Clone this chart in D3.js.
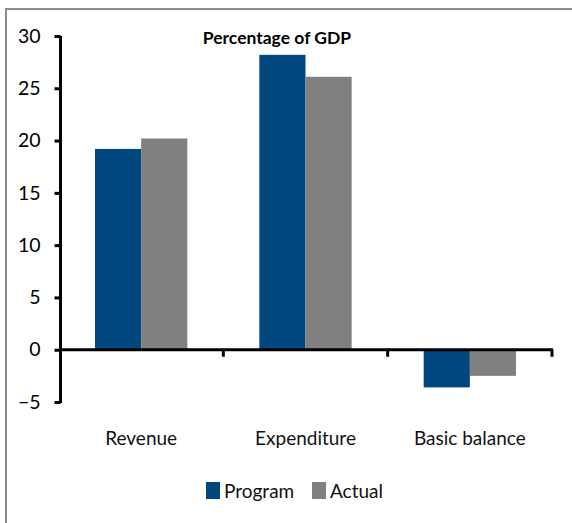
<!DOCTYPE html>
<html><head><meta charset="utf-8">
<script src="https://cdn.jsdelivr.net/npm/d3@7"></script>
<style>body{margin:0;background:#fff}svg{display:block}</style>
</head><body>
<svg id="c" width="572" height="523"></svg>
<script>
const categories = ["Revenue", "Expenditure", "Basic balance"];
const seriesNames = ["Program", "Actual"];
const program = [19.2, 28.2, -3.6];
const actual = [20.2, 26.1, -2.5];
const yTicks = [-5, 0, 5, 10, 15, 20, 25, 30];
const colors = ["#00467F", "#808080"];
const title = "Percentage of GDP";

const font = "Lato, 'Open Sans', sans-serif";
const svg = d3.select("#c");

// frame (clipped on right and bottom)
svg.append("rect").attr("x", 6).attr("y", 9).attr("width", 600).attr("height", 600)
  .attr("fill", "none").attr("stroke", "#8c8c8c").attr("stroke-width", 2);

const y = d3.scaleLinear().domain([-5, 30]).range([402, 36]);
const x = d3.scaleBand().domain(categories).range([59, 552]).padding(0);
const x1 = d3.scaleBand().domain(seriesNames).range([36, x.bandwidth() - 36]).padding(0);

const data = categories.map((c, i) => ({cat: c, vals: [program[i], actual[i]]}));

const g = svg.append("g");
data.forEach(d => {
  d.vals.forEach((v, j) => {
    g.append("rect")
      .attr("x", x(d.cat) + x1(seriesNames[j]))
      .attr("width", x1.bandwidth())
      .attr("y", y(Math.max(0, v)))
      .attr("height", Math.abs(y(v) - y(0)))
      .attr("fill", colors[j]);
  });
});

// y axis
const yAxis = d3.axisLeft(y).tickValues(yTicks).tickSize(6).tickPadding(14);
const ya = svg.append("g").attr("transform", "translate(60.5,0)").call(yAxis);
ya.select(".domain").attr("stroke", "#000").attr("stroke-width", 3).attr("d", `M0,${y(30)}V${y(-5)+1}`);
ya.selectAll(".tick line").attr("stroke", "#000").attr("stroke-width", 3);
ya.selectAll(".tick text").attr("font-family", font).attr("font-size", 19.5).attr("fill", "#000");

// x axis at zero
const xa = svg.append("g").attr("transform", `translate(0,${y(0)})`);
xa.append("line").attr("x1", 59).attr("x2", 553).attr("y1", 0).attr("y2", 0)
  .attr("stroke", "#000").attr("stroke-width", 3);
const bounds = categories.map(c => x(c) + x.bandwidth());
xa.selectAll("line.t").data(bounds).enter().append("line").attr("class", "t")
  .attr("x1", d => d).attr("x2", d => d).attr("y1", 0).attr("y2", 7)
  .attr("stroke", "#000").attr("stroke-width", 3);

// category labels
svg.selectAll("text.cat").data(categories).enter().append("text").attr("class", "cat")
  .attr("x", d => x(d) + x.bandwidth() / 2).attr("y", 445)
  .attr("text-anchor", "middle").attr("font-family", font).attr("font-size", 19)
  .attr("fill", "#111").text(d => d);

// title
svg.append("text").attr("x", 277).attr("y", 44).attr("text-anchor", "middle")
  .attr("font-family", font).attr("font-weight", "bold").attr("font-size", 17.5)
  .attr("fill", "#000").text(title);

// legend
const legX = [206, 312];
seriesNames.forEach((s, i) => {
  svg.append("rect").attr("x", legX[i]).attr("y", 482).attr("width", 14).attr("height", 17).attr("fill", colors[i]);
  svg.append("text").attr("x", legX[i] + 18).attr("y", 498).attr("font-family", font).attr("font-size", 19)
    .attr("fill", "#111").text(s);
});
</script>
</body></html>
